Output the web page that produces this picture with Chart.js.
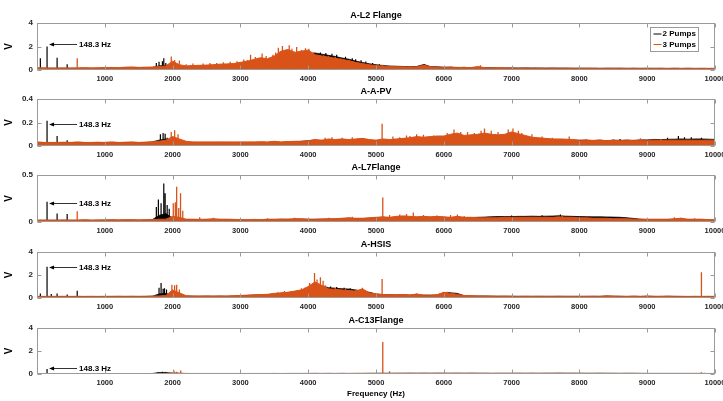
<!DOCTYPE html>
<html>
<head>
<meta charset="utf-8">
<script src="https://cdn.jsdelivr.net/npm/chart.js@4.4.1/dist/chart.umd.min.js"></script>
<style>
  html, body { margin: 0; padding: 0; background: #fff; }
  #wrap { position: relative; width: 723px; height: 401px; overflow: hidden; }
  #wrap canvas { position: absolute; left: 0; top: 0; }
</style>
</head>
<body>
<div id="wrap">
  <canvas id="c0" width="723" height="401"></canvas>
  <canvas id="c1" width="723" height="401"></canvas>
  <canvas id="c2" width="723" height="401"></canvas>
  <canvas id="c3" width="723" height="401"></canvas>
  <canvas id="c4" width="723" height="401"></canvas>
</div>
<script>
// ---- data ----
const PANEL_TITLES = ["A-L2 Flange", "A-A-PV", "A-L7Flange", "A-HSIS", "A-C13Flange"];
const SERIES_NAMES = ["2 Pumps", "3 Pumps"];
const Y_MAX = [4, 0.4, 0.5, 4, 4];
const Y_STEP = [2, 0.2, 0.5, 2, 2];
const X_MAX = 10000;
const X_STEP = 1000;
const FREQ_STEP = 100; // spectrum floor sampled every 100 Hz
const NOTE_FREQ = 148.3;
const NOTE_TEXT = "148.3 Hz";
const NOTE_LEVEL = [2.2, 0.19, 0.205, 2.72, 0.5];
const X_TITLE = "Frequency (Hz)";
const Y_TITLE = "V";

// 2 pumps (black) floor, one value per 100 Hz
const BLACK_L2 = [0.15,0.15,0.15,0.15,0.15,0.15,0.15,0.15,0.15,0.15,
  0.18,0.18,0.18,0.2,0.2,0.2,0.2,0.22,0.35,0.4,
  0.3,0.3,0.3,0.32,0.35,0.38,0.4,0.42,0.45,0.48,
  0.55,0.6,0.7,0.8,0.8,0.9,1.1,1.2,1.2,1.3,
  1.4,1.45,1.35,1.25,1.15,1.02,0.92,0.76,0.64,0.53,
  0.45,0.38,0.34,0.32,0.3,0.28,0.3,0.46,0.3,0.27,
  0.24,0.24,0.22,0.22,0.2,0.22,0.2,0.19,0.18,0.18,
  0.18,0.17,0.18,0.17,0.17,0.16,0.17,0.16,0.16,0.15,
  0.15,0.15,0.15,0.14,0.15,0.14,0.15,0.14,0.14,0.14,
  0.14,0.14,0.14,0.13,0.14,0.13,0.14,0.13,0.13,0.13,0.13];
const BLACK_APV = [0.03,0.03,0.03,0.03,0.03,0.03,0.03,0.03,0.03,0.03,
  0.03,0.03,0.03,0.03,0.03,0.03,0.03,0.035,0.05,0.06,
  0.04,0.035,0.03,0.03,0.03,0.03,0.03,0.03,0.03,0.03,
  0.03,0.03,0.03,0.03,0.03,0.035,0.03,0.035,0.035,0.04,
  0.045,0.05,0.045,0.05,0.05,0.055,0.05,0.055,0.06,0.05,
  0.045,0.05,0.05,0.055,0.06,0.06,0.07,0.065,0.07,0.075,
  0.075,0.085,0.09,0.08,0.085,0.09,0.095,0.09,0.085,0.09,
  0.1,0.09,0.08,0.065,0.06,0.058,0.055,0.055,0.052,0.05,
  0.048,0.05,0.045,0.05,0.045,0.05,0.048,0.05,0.048,0.052,
  0.052,0.056,0.054,0.057,0.058,0.06,0.058,0.06,0.06,0.058,0.056];
const BLACK_L7 = [0.018,0.018,0.018,0.018,0.018,0.018,0.018,0.018,0.018,0.018,
  0.02,0.02,0.02,0.02,0.02,0.02,0.02,0.025,0.07,0.09,
  0.04,0.03,0.025,0.025,0.025,0.025,0.025,0.025,0.025,0.025,
  0.022,0.022,0.025,0.022,0.025,0.025,0.028,0.028,0.03,0.03,
  0.028,0.028,0.03,0.03,0.032,0.035,0.04,0.035,0.035,0.04,
  0.045,0.05,0.045,0.05,0.055,0.05,0.05,0.05,0.05,0.05,
  0.05,0.045,0.05,0.045,0.048,0.05,0.052,0.056,0.058,0.058,
  0.058,0.06,0.06,0.062,0.06,0.062,0.063,0.066,0.062,0.06,
  0.058,0.057,0.055,0.055,0.054,0.052,0.05,0.045,0.038,0.03,
  0.025,0.025,0.025,0.025,0.025,0.03,0.025,0.025,0.025,0.022,0.022];
const BLACK_HSIS = [0.12,0.12,0.12,0.12,0.12,0.12,0.12,0.12,0.12,0.12,
  0.13,0.13,0.13,0.13,0.13,0.13,0.13,0.15,0.35,0.4,
  0.25,0.18,0.16,0.15,0.15,0.16,0.15,0.16,0.15,0.17,
  0.2,0.22,0.25,0.27,0.28,0.35,0.4,0.45,0.55,0.65,
  0.9,1.2,1.05,0.9,0.85,0.8,0.78,0.7,0.6,0.5,
  0.35,0.3,0.28,0.27,0.28,0.25,0.3,0.25,0.24,0.26,
  0.45,0.45,0.4,0.2,0.18,0.17,0.17,0.16,0.15,0.15,
  0.14,0.14,0.14,0.14,0.14,0.14,0.14,0.14,0.14,0.14,
  0.14,0.14,0.14,0.14,0.15,0.14,0.14,0.13,0.14,0.13,
  0.14,0.13,0.13,0.14,0.13,0.13,0.12,0.13,0.12,0.13,0.12];
const BLACK_C13 = [0.04,0.035,0.035,0.035,0.035,0.035,0.035,0.035,0.035,0.035,
  0.035,0.035,0.035,0.035,0.035,0.035,0.035,0.04,0.12,0.14,
  0.06,0.045,0.04,0.04,0.04,0.04,0.04,0.04,0.04,0.04,
  0.04,0.04,0.04,0.04,0.04,0.045,0.04,0.045,0.045,0.045,
  0.045,0.05,0.045,0.05,0.045,0.05,0.045,0.05,0.05,0.055,
  0.055,0.06,0.055,0.06,0.06,0.065,0.06,0.065,0.06,0.065,
  0.065,0.06,0.065,0.06,0.065,0.06,0.06,0.055,0.06,0.06,
  0.06,0.065,0.06,0.065,0.06,0.065,0.065,0.07,0.065,0.065,
  0.065,0.06,0.06,0.065,0.06,0.06,0.055,0.06,0.06,0.055,
  0.05,0.05,0.05,0.05,0.05,0.05,0.05,0.05,0.05,0.045,0.045];

// 3 pumps (orange) floor, one value per 100 Hz
const ORANGE_L2 = [0.2,0.18,0.17,0.17,0.18,0.17,0.18,0.2,0.18,0.19,
  0.2,0.22,0.2,0.24,0.26,0.22,0.24,0.25,0.3,0.35,
  0.75,0.45,0.35,0.38,0.4,0.42,0.45,0.5,0.52,0.55,
  0.65,0.75,0.9,1.05,0.95,1.2,1.6,1.75,1.5,1.6,
  1.7,1.3,1.2,1.1,1.0,0.9,0.8,0.65,0.55,0.45,
  0.38,0.33,0.3,0.28,0.27,0.25,0.27,0.4,0.28,0.25,
  0.22,0.24,0.2,0.22,0.2,0.3,0.2,0.18,0.2,0.18,
  0.17,0.16,0.17,0.15,0.16,0.15,0.16,0.15,0.16,0.15,
  0.15,0.16,0.15,0.14,0.15,0.16,0.15,0.14,0.15,0.14,
  0.15,0.14,0.15,0.14,0.15,0.14,0.15,0.14,0.15,0.14,0.14];
const ORANGE_APV = [0.035,0.03,0.03,0.03,0.032,0.03,0.035,0.03,0.03,0.032,
  0.03,0.035,0.03,0.032,0.035,0.03,0.033,0.035,0.04,0.05,
  0.08,0.06,0.04,0.035,0.035,0.035,0.035,0.035,0.035,0.035,
  0.035,0.035,0.035,0.037,0.035,0.04,0.035,0.038,0.04,0.04,
  0.045,0.055,0.05,0.06,0.055,0.06,0.055,0.06,0.065,0.055,
  0.05,0.06,0.055,0.06,0.065,0.07,0.08,0.075,0.08,0.085,
  0.085,0.1,0.11,0.09,0.095,0.1,0.11,0.1,0.095,0.1,
  0.12,0.105,0.09,0.075,0.07,0.065,0.06,0.06,0.058,0.055,
  0.05,0.05,0.048,0.05,0.045,0.048,0.045,0.05,0.045,0.05,
  0.05,0.05,0.048,0.05,0.05,0.05,0.05,0.05,0.05,0.05,0.05];
const ORANGE_L7 = [0.02,0.02,0.02,0.02,0.022,0.02,0.02,0.025,0.02,0.022,
  0.022,0.025,0.022,0.025,0.025,0.022,0.025,0.025,0.03,0.03,
  0.06,0.05,0.03,0.03,0.028,0.03,0.035,0.03,0.03,0.028,
  0.025,0.025,0.028,0.025,0.03,0.03,0.032,0.03,0.035,0.035,
  0.03,0.03,0.032,0.035,0.035,0.04,0.045,0.04,0.04,0.045,
  0.05,0.055,0.05,0.06,0.065,0.06,0.055,0.06,0.055,0.06,
  0.055,0.05,0.06,0.05,0.05,0.045,0.045,0.045,0.045,0.05,
  0.05,0.05,0.05,0.05,0.05,0.05,0.05,0.055,0.05,0.05,
  0.045,0.045,0.04,0.04,0.04,0.035,0.035,0.035,0.03,0.03,
  0.03,0.03,0.03,0.03,0.035,0.04,0.03,0.03,0.03,0.025,0.025];
const ORANGE_HSIS = [0.15,0.14,0.15,0.14,0.15,0.14,0.15,0.14,0.15,0.14,
  0.15,0.15,0.16,0.15,0.16,0.15,0.16,0.17,0.18,0.22,
  0.7,0.45,0.2,0.18,0.17,0.18,0.17,0.18,0.17,0.2,
  0.22,0.25,0.28,0.3,0.32,0.4,0.45,0.5,0.6,0.7,
  1.0,1.4,1.1,0.8,0.75,0.7,0.65,0.6,0.8,0.45,
  0.35,0.3,0.28,0.28,0.3,0.26,0.35,0.25,0.25,0.28,
  0.5,0.4,0.3,0.22,0.2,0.18,0.18,0.17,0.16,0.17,
  0.16,0.15,0.16,0.15,0.16,0.15,0.15,0.16,0.15,0.15,
  0.15,0.15,0.16,0.15,0.2,0.18,0.16,0.15,0.17,0.15,
  0.18,0.16,0.15,0.17,0.16,0.15,0.14,0.15,0.14,0.15,0.14];
const ORANGE_C13 = [0.05,0.04,0.04,0.04,0.04,0.04,0.04,0.04,0.04,0.04,
  0.04,0.04,0.04,0.04,0.04,0.04,0.04,0.045,0.05,0.06,
  0.1,0.08,0.05,0.045,0.045,0.045,0.045,0.045,0.045,0.045,
  0.045,0.045,0.045,0.045,0.045,0.05,0.045,0.05,0.05,0.05,
  0.05,0.055,0.05,0.055,0.05,0.055,0.05,0.055,0.055,0.06,
  0.06,0.065,0.06,0.065,0.065,0.07,0.065,0.07,0.065,0.07,
  0.07,0.065,0.07,0.065,0.07,0.065,0.065,0.06,0.06,0.06,
  0.06,0.06,0.055,0.06,0.055,0.06,0.06,0.065,0.06,0.06,
  0.06,0.055,0.055,0.06,0.055,0.055,0.05,0.055,0.055,0.05,
  0.05,0.05,0.05,0.05,0.05,0.05,0.05,0.05,0.05,0.045,0.045];

// narrow peaks: [frequency Hz, amplitude V]
const BLACK_PEAKS_L2 = [[49.4,1.0],[148.3,2.0],[296.6,1.05],[444.9,0.5],[1760,0.6],[1800,0.7],
  [1850,0.75],[1870,1.0],[1900,0.6],[4180,1.5],[4260,1.45],[4350,1.38],[4420,1.3],[4550,1.12],
  [4650,1.0],[4700,0.92],[4780,0.82],[4850,0.72],[4950,0.6],[5050,0.48],[5720,0.5]];
const BLACK_PEAKS_APV = [[148.3,0.215],[296.6,0.085],[444.9,0.05],[1820,0.1],[1860,0.11],
  [1890,0.105],[1920,0.07],[8600,0.06],[9300,0.07],[9460,0.085],[9550,0.075],[9650,0.075],[9800,0.07]];
const BLACK_PEAKS_L7 = [[148.3,0.215],[296.6,0.09],[444.9,0.085],[1760,0.16],[1790,0.24],
  [1830,0.2],[1870,0.41],[1890,0.305],[1920,0.18],[1950,0.14],[7000,0.07],[7450,0.072],[7720,0.08]];
const BLACK_PEAKS_HSIS = [[49.4,0.4],[148.3,2.72],[210,0.35],[296.6,0.4],[444.9,0.3],[593.2,0.63],
  [1800,0.9],[1830,1.3],[1860,0.8],[1880,0.85],[1910,0.75],[4330,1.0],[4420,0.95],[4530,0.9],
  [4620,0.85],[6080,0.5]];
const BLACK_PEAKS_C13 = [[148.3,0.43],[1780,0.15],[1850,0.2],[1900,0.15]];

const ORANGE_PEAKS_L2 = [[593.2,1.0],[1980,1.15],[2030,0.85],[2100,0.8],[2200,0.5],[2300,0.55],
  [2450,0.55],[2550,0.6],[2650,0.6],[2750,0.65],[2850,0.7],[2950,0.75],[3050,0.9],[3100,0.85],
  [3150,1.3],[3220,1.1],[3270,1.0],[3320,1.4],[3380,1.2],[3420,1.05],[3480,1.3],[3520,1.5],
  [3560,1.9],[3590,1.6],[3620,2.05],[3650,1.55],[3680,1.7],[3720,2.1],[3760,1.8],[3790,1.6],
  [3830,1.95],[3870,1.5],[3900,1.7],[3930,1.6],[3960,1.85],[4010,1.8],[4080,1.5],[4130,1.3],
  [4230,1.25],[4300,1.2],[4400,1.1],[4480,1.0],[4600,0.85],[5100,0.45],[5300,0.35],[5500,0.35],
  [5730,0.5],[6100,0.3],[6300,0.28],[6540,0.4],[7350,0.22],[8250,0.2],[8800,0.2],[9450,0.2]];
const ORANGE_PEAKS_APV = [[1980,0.12],[2030,0.135],[2080,0.1],[4100,0.06],[4250,0.07],[4350,0.075],
  [4500,0.07],[4650,0.075],[4800,0.065],[5090,0.19],[5250,0.08],[5350,0.075],[5450,0.09],[5500,0.085],
  [5600,0.1],[5700,0.095],[5850,0.09],[6050,0.11],[6150,0.14],[6250,0.12],[6350,0.12],[6450,0.11],
  [6550,0.13],[6600,0.15],[6700,0.13],[6800,0.12],[6950,0.14],[7020,0.15],[7100,0.13],[7150,0.11],
  [7300,0.1],[7450,0.08],[7600,0.07],[7850,0.08],[8100,0.06],[8500,0.06],[8900,0.065],[9200,0.06]];
const ORANGE_PEAKS_L7 = [[593.2,0.115],[2010,0.2],[2040,0.21],[2060,0.375],[2090,0.15],[2117,0.305],
  [2150,0.12],[2400,0.05],[2600,0.045],[3400,0.04],[3800,0.045],[4300,0.045],[4650,0.055],
  [5100,0.26],[5200,0.075],[5350,0.08],[5450,0.085],[5550,0.1],[5700,0.075],[5900,0.07],
  [6100,0.075],[6200,0.08],[6300,0.065],[7750,0.07],[9400,0.05],[9500,0.045],[9700,0.04]];
const ORANGE_PEAKS_HSIS = [[1990,1.15],[2030,1.1],[2060,1.15],[2100,0.75],[3300,0.35],[3450,0.4],
  [3550,0.5],[3650,0.6],[3750,0.6],[3850,0.7],[3900,0.85],[3950,0.9],[4020,1.3],[4093,2.17],
  [4130,1.6],[4180,1.8],[4220,1.5],[4250,1.1],[4400,0.9],[4550,0.85],[4700,0.75],[4800,0.9],
  [5090,1.65],[5350,0.35],[5600,0.4],[6050,0.55],[6150,0.45],[7000,0.2],[8400,0.22],[9200,0.2],
  [9800,2.23]];
const ORANGE_PEAKS_C13 = [[2020,0.3],[2060,0.2],[2120,0.3],[5100,2.78],[5200,0.25],[9800,0.15]];

const BLACK_VALUES = [BLACK_L2, BLACK_APV, BLACK_L7, BLACK_HSIS, BLACK_C13];
const ORANGE_VALUES = [ORANGE_L2, ORANGE_APV, ORANGE_L7, ORANGE_HSIS, ORANGE_C13];
const BLACK_PEAKS = [BLACK_PEAKS_L2, BLACK_PEAKS_APV, BLACK_PEAKS_L7, BLACK_PEAKS_HSIS, BLACK_PEAKS_C13];
const ORANGE_PEAKS = [ORANGE_PEAKS_L2, ORANGE_PEAKS_APV, ORANGE_PEAKS_L7, ORANGE_PEAKS_HSIS, ORANGE_PEAKS_C13];

// ---- layout / style ----
const FONT = "'Liberation Sans', Arial, Helvetica, sans-serif";
const ORANGE = "#D95319";
const BLACK = "#000000";
const TEXT = "#262626";
const FRAME = "#9a9a9a";
const BOX_TOP = [23, 99, 175, 252, 328];
const BOX_BOTTOM = [70, 146, 222, 298, 374];
const PAGE_H = 401;

Chart.defaults.font.family = FONT;

function floorSeries(values) {
  return values.map((v, i) => ({ x: i * FREQ_STEP, y: v }));
}

function peakSeries(peaks) {
  const pts = [];
  peaks.forEach(([f, a]) => {
    pts.push({ x: f, y: 0 }, { x: f, y: a }, { x: f, y: null });
  });
  return pts;
}

const framePlugin = {
  id: "frame",
  afterDraw(chart, args, opts) {
    const { ctx, chartArea: a, scales } = chart;
    const xs = scales.x;
    const ys = scales.y;
    const left = Math.round(a.left) + 0.5;
    const right = Math.round(a.right) - 0.5;
    const top = Math.round(a.top) + 0.5;
    const bottom = Math.round(a.bottom) - 0.5;

    ctx.save();
    ctx.strokeStyle = FRAME;
    ctx.lineWidth = 1;
    ctx.strokeRect(left, top, right - left, bottom - top);
    ctx.beginPath();
    xs.ticks.forEach((t) => {
      const px = Math.round(xs.getPixelForValue(t.value)) + 0.5;
      ctx.moveTo(px, bottom); ctx.lineTo(px, bottom - 4);
      ctx.moveTo(px, top); ctx.lineTo(px, top + 4);
    });
    ys.ticks.forEach((t) => {
      const py = Math.round(ys.getPixelForValue(t.value)) + 0.5;
      ctx.moveTo(left, py); ctx.lineTo(left + 4, py);
      ctx.moveTo(right, py); ctx.lineTo(right - 4, py);
    });
    ctx.stroke();

    // panel title
    ctx.fillStyle = "#000";
    ctx.font = `bold 9px ${FONT}`;
    ctx.textAlign = "center";
    ctx.textBaseline = "middle";
    ctx.fillText(opts.title, (a.left + a.right) / 2, a.top - 7.5);

    // 148.3 Hz arrow
    const tipX = xs.getPixelForValue(NOTE_FREQ) + 2;
    const tipY = Math.round(ys.getPixelForValue(opts.noteLevel)) + 0.5;
    const textX = tipX + 30;
    ctx.strokeStyle = "#000";
    ctx.lineWidth = 0.8;
    ctx.beginPath();
    ctx.moveTo(tipX + 4, tipY);
    ctx.lineTo(textX - 2, tipY);
    ctx.stroke();
    ctx.beginPath();
    ctx.moveTo(tipX, tipY);
    ctx.lineTo(tipX + 5, tipY - 2);
    ctx.lineTo(tipX + 5, tipY + 2);
    ctx.closePath();
    ctx.fill();
    ctx.font = `bold 8px ${FONT}`;
    ctx.textAlign = "left";
    ctx.fillText(NOTE_TEXT, textX, tipY);

    // legend
    if (opts.legend) {
      const bx = Math.round(a.right) - 64.5;
      const by = top + 4;
      ctx.fillStyle = "#fff";
      ctx.fillRect(bx, by, 48, 24);
      ctx.strokeStyle = FRAME;
      ctx.lineWidth = 1;
      ctx.strokeRect(bx, by, 48, 24);
      [BLACK, ORANGE].forEach((c, i) => {
        const ly = by + 6.5 + i * 10.5;
        ctx.strokeStyle = c;
        ctx.lineWidth = 1;
        ctx.beginPath();
        ctx.moveTo(bx + 3, ly);
        ctx.lineTo(bx + 11, ly);
        ctx.stroke();
        ctx.fillStyle = "#000";
        ctx.font = `bold 8px ${FONT}`;
        ctx.textAlign = "left";
        ctx.textBaseline = "middle";
        ctx.fillText(SERIES_NAMES[i], bx + 12, ly);
      });
    }
    ctx.restore();
  },
};

function makePanel(k) {
  const last = k === PANEL_TITLES.length - 1;
  const xHeight = last ? 27 : 20;
  return new Chart(document.getElementById("c" + k), {
    type: "line",
    data: {
      datasets: [
        { label: SERIES_NAMES[1], data: peakSeries(ORANGE_PEAKS[k]), borderColor: ORANGE,
          borderWidth: 1.3, order: 0 },
        { label: SERIES_NAMES[1], data: floorSeries(ORANGE_VALUES[k]), borderColor: ORANGE,
          backgroundColor: ORANGE, fill: "origin", order: 1 },
        { label: SERIES_NAMES[0], data: peakSeries(BLACK_PEAKS[k]), borderColor: BLACK,
          borderWidth: 1.2, order: 2 },
        { label: SERIES_NAMES[0], data: floorSeries(BLACK_VALUES[k]), borderColor: BLACK,
          backgroundColor: BLACK, fill: "origin", borderWidth: 0.8, order: 3 },
      ],
    },
    options: {
      responsive: false,
      animation: false,
      events: [],
      layout: {
        padding: { top: BOX_TOP[k], left: 0, right: 8, bottom: PAGE_H - BOX_BOTTOM[k] - xHeight },
      },
      elements: {
        point: { radius: 0 },
        line: { borderWidth: 1, tension: 0 },
      },
      scales: {
        x: {
          type: "linear",
          min: 0,
          max: X_MAX,
          grid: { display: false, drawTicks: false },
          border: { display: false },
          ticks: {
            stepSize: X_STEP,
            autoSkip: false,
            maxRotation: 0,
            padding: 4,
            color: TEXT,
            font: { size: 7.5, weight: "bold" },
            callback: (v) => (v === 0 ? "" : String(v)),
          },
          title: {
            display: last,
            text: X_TITLE,
            color: "#000",
            font: { size: 8, weight: "bold" },
            padding: { top: 0, bottom: 2 },
          },
          afterFit(scale) {
            scale.height = xHeight;
            scale.paddingLeft = 0;
            scale.paddingRight = 0;
          },
        },
        y: {
          min: 0,
          max: Y_MAX[k],
          grid: { display: false, drawTicks: false },
          border: { display: false },
          ticks: {
            stepSize: Y_STEP[k],
            padding: 4,
            color: TEXT,
            font: { size: 8, weight: "bold" },
            callback: (v) => String(+v.toFixed(2)),
          },
          title: {
            display: true,
            text: Y_TITLE,
            color: "#000",
            font: { size: 10, weight: "bold" },
            padding: { top: 3, bottom: 0 },
          },
          afterFit(scale) {
            scale.width = 37;
          },
        },
      },
      plugins: {
        legend: { display: false },
        tooltip: { enabled: false },
        frame: { title: PANEL_TITLES[k], noteLevel: NOTE_LEVEL[k], legend: k === 0 },
      },
    },
    plugins: [framePlugin],
  });
}

PANEL_TITLES.forEach((_, k) => makePanel(k));
</script>
</body>
</html>
